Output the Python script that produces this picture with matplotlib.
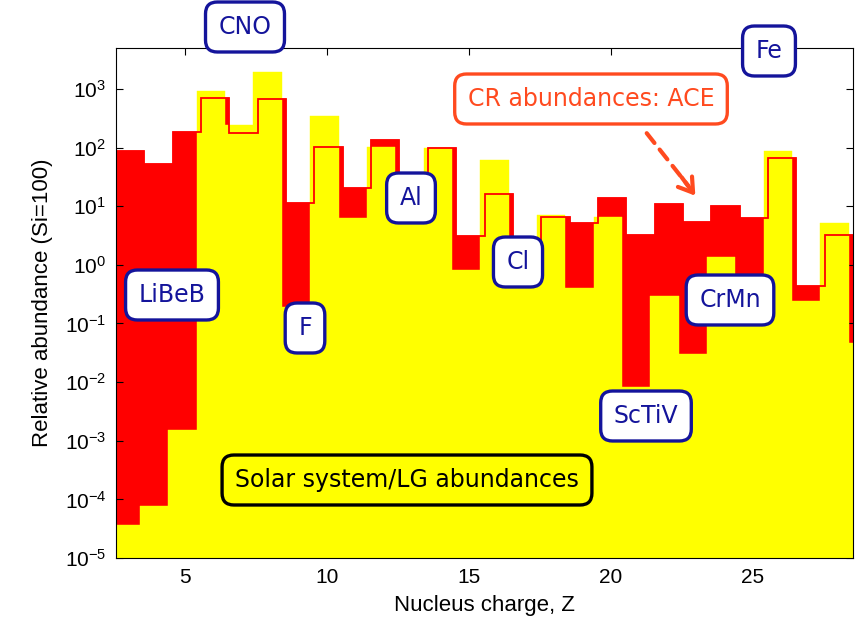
import numpy as np
import matplotlib
matplotlib.use('Agg')
import matplotlib.pyplot as plt
from matplotlib.ticker import FixedLocator, NullLocator

# nucleus charge Z (Li .. Ni for CR, Li .. Cu for solar system)
z_cr = np.arange(3, 29)
z_ss = np.arange(3, 30)

# relative abundances, Si = 100
cr_ace = [89, 53, 185, 695, 176, 667, 11.3, 104, 20.4, 135, 20, 100, 3.05,
          16.3, 2.5, 6.6, 5.2, 13.8, 3.25, 11, 5.3, 10.2, 6.3, 67, 0.43, 3.25]
solar_lg = [3.7e-5, 7.6e-5, 1.5e-3, 935, 244, 1925, 0.19, 347, 6.3, 104,
            8.5, 100, 0.83, 62, 0.5, 7.1, 0.41, 6.6, 8.4e-3, 0.29, 0.03,
            1.36, 0.6, 89, 0.24, 5.1, 0.047]

ytick_exp = [-5, -4, -3, -2, -1, 0, 1, 2, 3]
xticks = [5, 10, 15, 20, 25]

# (text, x px, y px) of the element boxes
blue_labels = [('CNO', 245, 27), ('Fe', 769, 51), ('Al', 411, 198),
               ('Cl', 518, 262), ('LiBeB', 172, 295), ('F', 305, 328),
               ('CrMn', 730, 300), ('ScTiV', 646, 416)]

RED = '#ff0000'
YEL = '#ffff00'
BLUE = '#14149b'
ORANGE = '#ff4a1f'

plt.rcParams['font.family'] = ['Liberation Sans', 'DejaVu Sans']
plt.rcParams['mathtext.default'] = 'regular'

W, H = 856, 624
fig = plt.figure(figsize=(W / 100, H / 100), dpi=100)
ax = fig.add_axes([116 / W, 1 - 558 / H, (853 - 116) / W, (558 - 48) / H])
ax.set_yscale('log')

shift_cr = 0.05
shift_ss = -0.1
ax.bar(z_cr + shift_cr, cr_ace, width=1.0, bottom=1e-7, color=RED,
       edgecolor=RED, linewidth=0.3, zorder=1)
ax.bar(z_ss + shift_ss, solar_lg, width=1.0, bottom=1e-7, color=YEL,
       edgecolor=YEL, linewidth=0.3, zorder=2)
edges = np.append(z_cr - 0.5, z_cr[-1] + 0.5) + shift_cr
ax.stairs(cr_ace, edges, baseline=None, color=RED, linewidth=1.3, zorder=3)

ax.set_xlim(2.55, 28.55)
ax.set_ylim(1e-5, 5e3)
ax.xaxis.set_major_locator(FixedLocator(xticks))
ax.yaxis.set_major_locator(FixedLocator([10.0 ** e for e in ytick_exp]))
ax.yaxis.set_minor_locator(NullLocator())
ax.set_yticklabels(['$10^{%d}$' % e for e in ytick_exp])
ax.tick_params(which='both', direction='in', top=True, right=True,
               length=5, width=0.8, labelsize=15, pad=7)
for sp in ax.spines.values():
    sp.set_linewidth(0.8)
    sp.set_zorder(5)

ax.set_xlabel('Nucleus charge, Z', fontsize=16, labelpad=6)
ax.set_ylabel('Relative abundance (Si=100)', fontsize=16, labelpad=8)

box_font = ['DejaVu Sans']
box_style = 'round,pad=0.55,rounding_size=0.5'
for txt, px, py in blue_labels:
    fig.text(px / W, 1 - py / H, txt, ha='center', va='center',
             fontsize=17, color=BLUE, family=box_font, zorder=10,
             bbox=dict(boxstyle=box_style, fc='white', ec=BLUE, lw=2.4))

fig.text(591 / W, 1 - 99 / H, 'CR abundances: ACE', ha='center',
         va='center', fontsize=17, color=ORANGE, family=box_font, zorder=10,
         bbox=dict(boxstyle=box_style, fc='white', ec=ORANGE, lw=2.4))

fig.text(407 / W, 1 - 480 / H, 'Solar system/LG abundances', ha='center',
         va='center', fontsize=17, color='black', family=box_font, zorder=10,
         bbox=dict(boxstyle=box_style, fc=YEL, ec='black', lw=2.4))

# dashed arrow from the CR box to the data
start = (645, H - 131)
neck = (690, H - 188)
tip = (697, H - 198)
ax.annotate('', xy=neck, xytext=start, xycoords='figure pixels',
            textcoords='figure pixels',
            arrowprops=dict(arrowstyle='-', color=ORANGE, lw=3,
                            linestyle=(0, (3, 2))))
ax.annotate('', xy=tip, xytext=(680, H - 175), xycoords='figure pixels',
            textcoords='figure pixels',
            arrowprops=dict(arrowstyle='->,head_length=0.7,head_width=0.45',
                            color=ORANGE, lw=3, mutation_scale=14))

fig.savefig('out.png', dpi=100)
